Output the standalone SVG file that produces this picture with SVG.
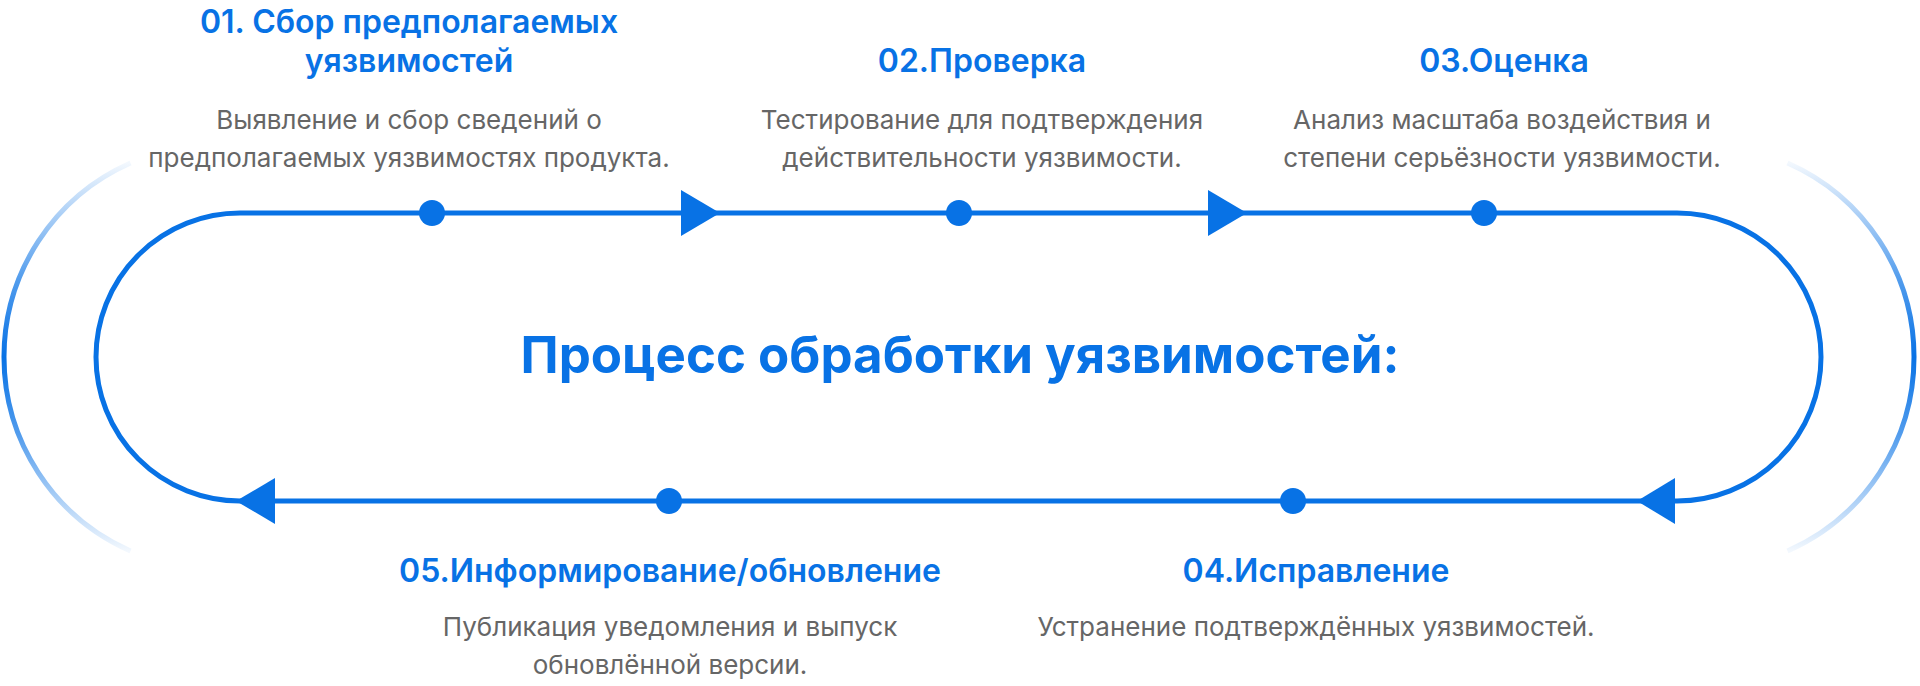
<svg xmlns="http://www.w3.org/2000/svg" width="1920" height="686" viewBox="0 0 1920 686">
<defs>
<linearGradient id="fade" gradientUnits="userSpaceOnUse" x1="0" y1="163" x2="0" y2="551">
<stop offset="0" stop-color="#0872E5" stop-opacity="0.05"/>
<stop offset="0.3" stop-color="#0872E5" stop-opacity="0.7"/>
<stop offset="0.5" stop-color="#0872E5" stop-opacity="1"/>
<stop offset="0.7" stop-color="#0872E5" stop-opacity="0.7"/>
<stop offset="1" stop-color="#0872E5" stop-opacity="0.05"/>
</linearGradient>
<style>
.loop{fill:none;stroke:#0872E5;stroke-width:5}
.outer{fill:none;stroke:url(#fade);stroke-width:5}
.arrow{fill:#0872E5}
.dot{fill:#0872E5}
.h{font-family:Inter,"Liberation Sans",sans-serif;font-weight:600;font-size:32px;fill:#0872E5;text-anchor:middle}
.d{font-family:Inter,"Liberation Sans",sans-serif;font-weight:400;font-size:26px;fill:#666666;text-anchor:middle}
.main{font-family:Inter,"Liberation Sans",sans-serif;font-weight:700;font-size:51px;fill:#0872E5;text-anchor:middle}
</style>
</defs>
<rect width="1920" height="686" fill="#ffffff"/>
<g id="connectors">
<path class="outer" d="M130.5,163 A212,212 0 0 0 130.5,551"/>
<path class="outer" d="M1787.5,163 A212,212 0 0 1 1787.5,551"/>
<path class="loop" d="M240,213 H1677 A144,144 0 0 1 1677,501 H240 A144,144 0 0 1 240,213 Z"/>
<polygon class="arrow" points="681,190 720,213 681,236"/>
<polygon class="arrow" points="1208,190 1247,213 1208,236"/>
<polygon class="arrow" points="1675,478 1637,501 1675,524"/>
<polygon class="arrow" points="275,478 236,501 275,524"/>
</g>
<g id="title">
<text class="main" x="960" y="373">Процесс обработки уязвимостей:</text>
</g>
<g id="step1">
<circle class="dot" cx="432" cy="213" r="13"/>
<text class="h" x="409" y="33">01. Сбор предполагаемых</text>
<text class="h" x="409" y="72">уязвимостей</text>
<text class="d" x="409" y="129">Выявление и сбор сведений о</text>
<text class="d" x="409" y="167">предполагаемых уязвимостях продукта.</text>
</g>
<g id="step2">
<circle class="dot" cx="959" cy="213" r="13"/>
<text class="h" x="982" y="72">02.Проверка</text>
<text class="d" x="982" y="129">Тестирование для подтверждения</text>
<text class="d" x="982" y="167">действительности уязвимости.</text>
</g>
<g id="step3">
<circle class="dot" cx="1484" cy="213" r="13"/>
<text class="h" x="1504" y="72">03.Оценка</text>
<text class="d" x="1502" y="129">Анализ масштаба воздействия и</text>
<text class="d" x="1502" y="167">степени серьёзности уязвимости.</text>
</g>
<g id="step4">
<circle class="dot" cx="1293" cy="501" r="13"/>
<text class="h" x="1316" y="582">04.Исправление</text>
<text class="d" x="1316" y="636">Устранение подтверждённых уязвимостей.</text>
</g>
<g id="step5">
<circle class="dot" cx="669" cy="501" r="13"/>
<text class="h" x="670" y="582">05.Информирование/обновление</text>
<text class="d" x="670" y="636">Публикация уведомления и выпуск</text>
<text class="d" x="670" y="674">обновлённой версии.</text>
</g>
</svg>
